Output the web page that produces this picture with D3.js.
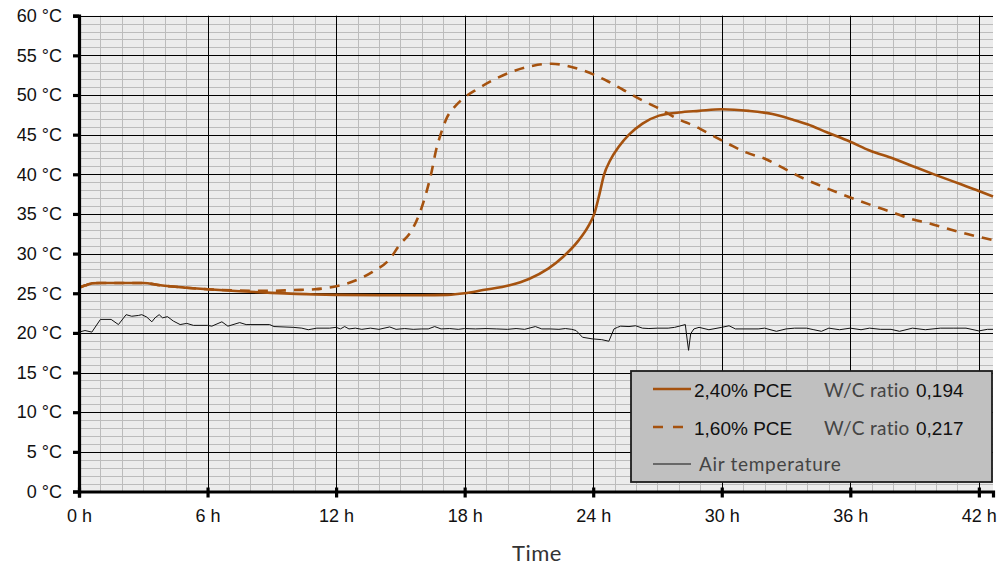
<!DOCTYPE html>
<html>
<head>
<meta charset="utf-8">
<script src="https://cdn.jsdelivr.net/npm/d3@7"></script>
<style>
  html, body { margin: 0; padding: 0; background: #fff; }
  svg { display: block; }
</style>
</head>
<body>
<svg id="chart" width="997" height="567"></svg>
<script>
// ---------------- DATA ----------------
const xTicks = [0, 6, 12, 18, 24, 30, 36, 42];
const yTicks = [0, 5, 10, 15, 20, 25, 30, 35, 40, 45, 50, 55, 60];

// 2,40% PCE, W/C ratio 0,194 (solid)
const pce240Time = [0, 0.3, 0.6, 1, 2, 3, 3.8, 5, 6, 7.5, 9, 11, 12, 14, 16, 17.2, 18, 18.85, 20.1, 21, 21.9, 22.6, 23.3, 23.76, 24.05, 24.3, 24.5, 24.8, 25.2, 25.67, 26.3, 27.07, 28, 28.94, 30, 31.27, 32.36, 33.3, 34, 34.9, 36, 36.9, 38, 39.08, 40, 41.1, 42, 42.66];
const pce240Temp = [25.7, 26.0, 26.25, 26.3, 26.3, 26.3, 26.0, 25.7, 25.5, 25.25, 25.05, 24.85, 24.8, 24.75, 24.75, 24.8, 25.0, 25.4, 26.0, 26.8, 28.1, 29.6, 31.6, 33.4, 35.0, 37.6, 39.9, 41.8, 43.5, 45.0, 46.4, 47.4, 47.8, 48.0, 48.2, 48.0, 47.6, 46.9, 46.3, 45.3, 44.1, 43.0, 42.0, 40.85, 39.9, 38.8, 37.9, 37.2];

// 1,60% PCE, W/C ratio 0,217 (dashed)
const pce160Time = [0, 0.3, 0.6, 1, 2, 3, 3.8, 5, 6, 7.5, 9, 10, 11, 11.84, 12.9, 13.7, 14.5, 14.96, 15.5, 15.9, 16.2, 16.44, 16.67, 16.9, 17.2, 17.5, 17.84, 18.62, 19.48, 20.26, 21.2, 22.05, 22.9, 24.0, 24.7, 25.43, 26.3, 27.07, 27.85, 28.8, 29.56, 30.34, 31.1, 32.07, 32.86, 33.8, 34.57, 35.4, 36.28, 37.1, 37.97, 38.8, 39.7, 40.6, 41.55, 42.66];
const pce160Temp = [25.7, 26.0, 26.25, 26.3, 26.3, 26.3, 26.0, 25.7, 25.5, 25.35, 25.3, 25.4, 25.5, 25.8, 26.6, 27.7, 29.3, 31.1, 32.8, 35.1, 37.6, 40.1, 43.1, 45.2, 47.3, 48.4, 49.35, 50.8, 52.1, 53.0, 53.7, 53.95, 53.6, 52.6, 51.7, 50.6, 49.3, 48.3, 47.1, 46.0, 44.9, 43.8, 42.8, 41.9, 40.8, 39.5, 38.6, 37.7, 36.8, 36.0, 35.2, 34.4, 33.8, 33.1, 32.4, 31.7];

// Air temperature (thin black)
const airTime = [0, 0.28, 0.6, 1.0, 1.5, 1.84, 2.2, 2.46, 2.77, 2.93, 3.16, 3.4, 3.55, 3.74, 3.9, 4.13, 4.4, 4.72, 5.03, 5.34, 6.0, 6.2, 6.67, 6.95, 7.5, 7.8, 8.9, 9.1, 10.0, 10.4, 10.7, 11.1, 11.7, 12.0, 12.2, 12.4, 12.6, 12.9, 13.2, 13.6, 14.0, 14.5, 14.8, 15.2, 15.6, 16.0, 16.3, 16.6, 16.9, 17.3, 17.7, 18.0, 18.5, 19.0, 19.5, 20.0, 20.4, 20.8, 21.3, 21.6, 22.0, 22.4, 22.7, 23.0, 23.2, 23.5, 23.95, 24.4, 24.73, 24.97, 25.13, 25.28, 25.67, 25.98, 26.3, 26.6, 27.0, 27.5, 27.8, 28.3, 28.35, 28.45, 28.55, 28.7, 28.94, 29.4, 30.0, 30.34, 30.64, 31.0, 31.7, 32.0, 32.55, 33.0, 33.4, 33.95, 34.3, 34.65, 35.0, 35.5, 36.0, 36.5, 36.9, 37.4, 37.9, 38.3, 38.9, 39.5, 40.2, 40.8, 41.4, 42.0, 42.4, 42.66];
const airTemp = [20.1, 20.3, 20.1, 21.7, 21.7, 21.05, 22.3, 22.1, 22.2, 22.3, 22.0, 21.4, 21.9, 22.3, 21.9, 22.05, 21.5, 21.05, 21.2, 20.95, 20.95, 20.85, 21.4, 20.85, 21.3, 21.05, 21.05, 20.8, 20.7, 20.6, 20.4, 20.6, 20.6, 20.7, 20.5, 20.8, 20.5, 20.6, 20.45, 20.6, 20.45, 20.75, 20.45, 20.55, 20.45, 20.5, 20.5, 20.8, 20.5, 20.55, 20.45, 20.55, 20.5, 20.55, 20.5, 20.45, 20.55, 20.45, 20.8, 20.5, 20.5, 20.45, 20.55, 20.45, 20.3, 19.45, 19.25, 19.15, 18.95, 20.5, 20.7, 20.85, 20.8, 20.9, 20.6, 20.55, 20.6, 20.6, 20.7, 21.05, 19.9, 17.8, 19.9, 20.5, 20.7, 20.4, 20.7, 20.9, 20.5, 20.5, 20.5, 20.6, 20.2, 20.5, 20.6, 20.6, 20.4, 20.2, 20.6, 20.4, 20.6, 20.4, 20.6, 20.45, 20.45, 20.2, 20.6, 20.4, 20.6, 20.6, 20.6, 20.25, 20.45, 20.45];

const legendLabels = ["2,40% PCE", "1,60% PCE", "Air temperature"];
const legendRatioLabels = ["W/C ratio", "W/C ratio", null];
const legendRatioValues = ["0,194", "0,217", null];
const axisTitleX = "Time";

// ---------------- LAYOUT ----------------
const L = 79, R = 993, T = 15.7, B = 491.5;
const brown = "#a5520f";
const svg = d3.select("#chart");

const x = d3.scaleLinear().domain([0, 42.66]).range([L, R]);
const y = d3.scaleLinear().domain([0, 60]).range([B, T]);

// plot background
svg.append("rect").attr("x", L).attr("y", T).attr("width", R - L).attr("height", B - T).attr("fill", "#ececec");

// minor grid
const minorX = d3.range(1, 43).filter(h => h % 6 !== 0);
const minorY = d3.range(1, 60).filter(v => v % 5 !== 0);
const grid = svg.append("g");
grid.selectAll(".mx").data(minorX).join("line")
  .attr("x1", d => Math.round(x(d)) + 0.5).attr("x2", d => Math.round(x(d)) + 0.5)
  .attr("y1", T).attr("y2", B).attr("stroke", "#bcbcbc").attr("stroke-width", 1);
grid.selectAll(".my").data(minorY).join("line")
  .attr("x1", L).attr("x2", R)
  .attr("y1", d => Math.round(y(d)) + 0.5).attr("y2", d => Math.round(y(d)) + 0.5)
  .attr("stroke", "#bcbcbc").attr("stroke-width", 1);
// major grid
grid.selectAll(".Mx").data(xTicks.filter(d => d > 0)).join("line")
  .attr("x1", d => Math.round(x(d)) + 0.5).attr("x2", d => Math.round(x(d)) + 0.5)
  .attr("y1", T).attr("y2", B).attr("stroke", "#000").attr("stroke-width", 1);
grid.selectAll(".My").data(yTicks.filter(d => d > 0)).join("line")
  .attr("x1", L).attr("x2", R)
  .attr("y1", d => Math.round(y(d)) + 0.5).attr("y2", d => Math.round(y(d)) + 0.5)
  .attr("stroke", "#000").attr("stroke-width", 1);

// lines
const line = d3.line().x(d => x(d[0])).y(d => y(d[1]));
const smooth = d3.line().curve(d3.curveMonotoneX).x(d => x(d[0])).y(d => y(d[1]));
const airData = airTime.map((t, i) => [t, airTemp[i]]);
const p160 = pce160Time.map((t, i) => [t, pce160Temp[i]]);
const p240 = pce240Time.map((t, i) => [t, pce240Temp[i]]);

svg.append("path").datum(airData).attr("d", line).attr("fill", "none")
  .attr("stroke", "#111").attr("stroke-width", 1).attr("stroke-linejoin", "round");
svg.append("path").datum(p160).attr("d", smooth)
  .attr("fill", "none").attr("stroke", brown).attr("stroke-width", 2.6).attr("stroke-dasharray", "10,8");
svg.append("path").datum(p240).attr("d", smooth)
  .attr("fill", "none").attr("stroke", brown).attr("stroke-width", 2.6);

// legend
const lg = svg.append("g");
lg.append("rect").attr("x", 631).attr("y", 371).attr("width", 361).attr("height", 111)
  .attr("fill", "#c0c0c0").attr("stroke", "#1c1c1c").attr("stroke-width", 1.8);
const rowY = [389, 427, 464];
const styles = [
  {stroke: brown, w: 2.6, dash: null},
  {stroke: brown, w: 2.6, dash: "10,10"},
  {stroke: "#111", w: 1, dash: null}
];
legendLabels.forEach((lab, i) => {
  lg.append("line").attr("x1", 653).attr("x2", 691).attr("y1", rowY[i]).attr("y2", rowY[i])
    .attr("stroke", styles[i].stroke).attr("stroke-width", styles[i].w)
    .attr("stroke-dasharray", styles[i].dash);
  if (i < 2) {
    lg.append("text").attr("x", 694).attr("y", rowY[i] + 7.5).text(lab)
      .attr("font-family", "Liberation Sans, Arial, sans-serif").attr("font-size", 19).attr("fill", "#111");
    lg.append("text").attr("x", 824).attr("y", rowY[i] + 7.5).text(legendRatioLabels[i])
      .attr("font-family", "Lato, sans-serif").attr("font-size", 19).attr("letter-spacing", 0.3).attr("fill", "#444");
    lg.append("text").attr("x", 916).attr("y", rowY[i] + 7.5).text(legendRatioValues[i])
      .attr("font-family", "Liberation Sans, Arial, sans-serif").attr("font-size", 19).attr("fill", "#111");
  } else {
    lg.append("text").attr("x", 699).attr("y", rowY[i] + 7).text(lab)
      .attr("font-family", "Lato, sans-serif").attr("font-size", 19).attr("letter-spacing", 0.7).attr("fill", "#444");
  }
});

// axes
const yAxis = d3.axisLeft(y).tickValues(yTicks).tickSize(6).tickPadding(11).tickFormat(d => d + " °C");
const gy = svg.append("g").attr("transform", `translate(${L},0)`).call(yAxis);
gy.select(".domain").attr("stroke", "#000").attr("stroke-width", 3.2);
gy.selectAll(".tick line").attr("stroke", "#000").attr("stroke-width", 3.2);
gy.selectAll(".tick text").attr("font-family", "Liberation Sans, Arial, sans-serif").attr("font-size", 18).attr("fill", "#111");

const xAxis = d3.axisBottom(x).tickValues(xTicks).tickSize(6).tickPadding(12).tickFormat(d => d + " h");
const gx = svg.append("g").attr("transform", `translate(0,${B})`).call(xAxis);
gx.select(".domain").attr("stroke", "#000").attr("stroke-width", 3.2);
gx.selectAll(".tick line").attr("stroke", "#000").attr("stroke-width", 3.2).attr("y1", -4);
gx.selectAll(".tick text").attr("font-family", "Liberation Sans, Arial, sans-serif").attr("font-size", 18).attr("fill", "#111");

svg.append("text").attr("x", 537).attr("y", 561).attr("text-anchor", "middle").text(axisTitleX)
  .attr("font-family", "Lato, sans-serif").attr("font-size", 22).attr("letter-spacing", 0.5).attr("fill", "#333");
</script>
</body>
</html>
